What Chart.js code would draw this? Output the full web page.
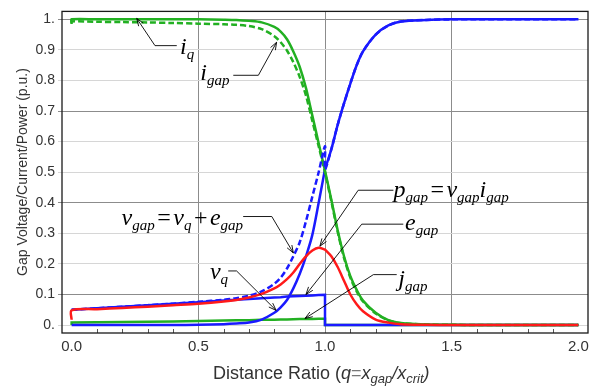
<!DOCTYPE html>
<html><head><meta charset="utf-8">
<script src="https://cdn.jsdelivr.net/npm/chart.js@4.4.1/dist/chart.umd.min.js"></script>
<style>html,body{margin:0;padding:0;background:#fff;}</style>
</head><body>
<canvas id="c" width="609" height="388"></canvas>
<script>
// ---- data ----
const q    = [0,    0,    0.1,  0.2,  0.3,  0.4,  0.5,  0.6,  0.65, 0.7,  0.75, 0.8,  0.825,0.85, 0.875,0.9,  0.925,0.95, 0.975,1.0,  1.0,  1.025,1.05, 1.075,1.1,  1.125,1.15, 1.2,  1.25, 1.3,  1.4,  1.5,  1.6,  1.8,  2.0];
const iQ   = [0.99, 1.0,  1.0,  1.0,  1.0,  1.0,  1.0,  0.999,0.998,0.995,0.99, 0.975,0.96, 0.935,0.895,0.845,0.775,0.685,0.595,0.505,0.505,0.41, 0.31, 0.225,0.16, 0.115,0.08, 0.04, 0.016,0.007,0.002,0.001,0,    0,    0];
const iGap = [0.985,0.993,0.992,0.991,0.99, 0.988,0.986,0.984,0.982,0.978,0.968,0.945,0.925,0.898,0.86, 0.812,0.75, 0.668,0.585,0.50, 0.50, 0.405,0.305,0.22, 0.155,0.11, 0.077,0.038,0.015,0.006,0.002,0.001,0,    0,    0];
const vQ   = [0,    0,    0,    0,    0,    0,    0.001,0.003,0.005,0.008,0.018,0.04, 0.058,0.082,0.12, 0.167,0.225,0.295,0.40, 0.51, 0.51, 0.575,0.655,0.725,0.79, 0.85, 0.895,0.95, 0.98, 0.993,0.998,1.0,  1.0,  1.0,  1.0];
const vGap = [0.05, 0.05, 0.055,0.06, 0.065,0.07, 0.076,0.083,0.088,0.096,0.11, 0.135,0.155,0.185,0.225,0.27, 0.34, 0.42, 0.50, 0.585,0.51, 0.575,0.655,0.725,0.79, 0.85, 0.895,0.95, 0.98, 0.993,0.998,1.0,  1.0,  1.0,  1.0];
const pGap = [0.017,0.048,0.052,0.056,0.06, 0.065,0.07, 0.077,0.082,0.09, 0.102,0.12, 0.133,0.15, 0.172,0.20, 0.225,0.244,0.253,0.247,0.247,0.225,0.19, 0.145,0.10, 0.068,0.045,0.018,0.008,0.003,0.001,0,    0,    0,    0];
const eGap = [0.05, 0.05, 0.055,0.06, 0.065,0.07, 0.075,0.08, 0.0825,0.085,0.0875,0.09,0.091,0.093,0.094,0.095,0.096,0.097,0.098,0.099,0,   0,    0,    0,    0,    0,    0,    0,    0,    0,    0,    0,    0,    0,    0];
const jGap = [0,    0.008,0.009,0.01, 0.011,0.012,0.013,0.015,0.0155,0.016,0.017,0.0175,0.018,0.0185,0.019,0.0195,0.02,0.02,0.021,0.021,0,    0,    0,    0,    0,    0,    0,    0,    0,    0,    0,    0,    0,    0,    0];

const xTicks = [0, 0.5, 1.0, 1.5, 2.0];
const xTickLabels = ['0.0', '0.5', '1.0', '1.5', '2.0'];
const yTicks = [0, 0.1, 0.2, 0.3, 0.4, 0.5, 0.6, 0.7, 0.8, 0.9, 1.0];
const yTickLabels = ['0.', '0.1', '0.2', '0.3', '0.4', '0.5', '0.6', '0.7', '0.8', '0.9', '1.'];
const yDarkGrid = [0.1, 0.4, 0.7, 1.0];
const xMinor = [0.1,0.2,0.3,0.4,0.6,0.7,0.8,0.9,1.1,1.2,1.3,1.4,1.6,1.7,1.8,1.9];

// annotation labels (positions in data units)
const notes = [
  {parts:[['i','m'],['q','s']], tip:[0.257,1.003], elbow:[0.329,0.914], end:[0.415,0.914], at:[0.428,0.887]},
  {parts:[['i','m'],['gap','s']], tip:[0.809,0.925], elbow:[0.737,0.817], end:[0.638,0.817], at:[0.508,0.80]},
  {parts:[['v','m'],['gap','s'],['=','o'],['v','m'],['q','s'],['+','o'],['e','m'],['gap','s']], tip:[0.875,0.236], elbow:[0.790,0.355], end:[0.677,0.355], at:[0.197,0.328]},
  {parts:[['v','m'],['q','s']], tip:[0.807,0.048], elbow:[0.651,0.177], end:[0.618,0.177], at:[0.546,0.151]},
  {parts:[['p','m'],['gap','s'],['=','o'],['v','m'],['gap','s'],['i','m'],['gap','s']], tip:[0.980,0.258], elbow:[1.131,0.441], end:[1.270,0.441], at:[1.270,0.419]},
  {parts:[['e','m'],['gap','s']], tip:[0.925,0.100], elbow:[1.145,0.330], end:[1.309,0.330], at:[1.316,0.312]},
  {parts:[['j','m'],['gap','s']], tip:[0.921,0.0216], elbow:[1.191,0.165], end:[1.283,0.165], at:[1.289,0.129]}
];

const GREEN = '#22b022', BLUE = '#1a1aff', RED = '#ff1a1a';
const pts = arr => q.map((x, i) => ({x: x, y: arr[i]}));

function drawParts(ctx, x, y, parts, fonts) {
  for (const [t, k] of parts) {
    const f = fonts[k];
    ctx.font = f.font;
    ctx.fillStyle = f.color || '#000';
    x += f.pre || 0;
    ctx.fillText(t, x, y + (f.dy || 0));
    x += ctx.measureText(t).width + (f.post || 0);
  }
}

const noteFonts = {
  m: {font: 'italic 24px "Liberation Serif"', dy: 0},
  s: {font: 'italic 15px "Liberation Serif"', dy: 5},
  o: {font: '24px "Liberation Serif"', dy: 0, pre: 2.5, post: 2.5}
};
const titleFonts = {
  n: {font: '18px "Liberation Sans"', color: '#333'},
  i: {font: 'italic 18px "Liberation Sans"', color: '#333'},
  o: {font: '18px "Liberation Sans"', color: '#777'},
  s: {font: 'italic 13px "Liberation Sans"', color: '#333', dy: 4}
};

const decor = {
  id: 'decor',
  afterDatasetsDraw(chart) {
    const {ctx, chartArea: a, scales: {x, y}} = chart;
    ctx.save();
    // minor ticks on bottom axis
    ctx.strokeStyle = '#555'; ctx.lineWidth = 1;
    for (const v of xMinor) {
      const px = Math.round(x.getPixelForValue(v)) + 0.5;
      ctx.beginPath(); ctx.moveTo(px, a.bottom); ctx.lineTo(px, a.bottom - 4); ctx.stroke();
    }
    // frame
    ctx.strokeStyle = '#1a1a1a'; ctx.lineWidth = 1.3;
    ctx.strokeRect(a.left, a.top, a.right - a.left, a.bottom - a.top);
    // annotations
    ctx.strokeStyle = '#000'; ctx.lineWidth = 0.9; ctx.textBaseline = 'alphabetic'; ctx.textAlign = 'left';
    for (const n of notes) {
      const T = [x.getPixelForValue(n.tip[0]), y.getPixelForValue(n.tip[1])];
      const E = [x.getPixelForValue(n.elbow[0]), y.getPixelForValue(n.elbow[1])];
      const N = [x.getPixelForValue(n.end[0]), y.getPixelForValue(n.end[1])];
      ctx.beginPath(); ctx.moveTo(N[0], N[1]); ctx.lineTo(E[0], E[1]); ctx.lineTo(T[0], T[1]); ctx.stroke();
      const ang = Math.atan2(T[1] - E[1], T[0] - E[0]);
      const L = 8, w = 0.35;
      ctx.beginPath();
      ctx.moveTo(T[0] - L * Math.cos(ang - w), T[1] - L * Math.sin(ang - w));
      ctx.lineTo(T[0], T[1]);
      ctx.lineTo(T[0] - L * Math.cos(ang + w), T[1] - L * Math.sin(ang + w));
      ctx.stroke();
      drawParts(ctx, x.getPixelForValue(n.at[0]), y.getPixelForValue(n.at[1]), n.parts, noteFonts);
    }
    // axis titles
    drawParts(ctx, 213, 379, [['Distance Ratio (', 'n'], ['q', 'i'], ['=', 'o'], ['x', 'i'], ['gap', 's'], ['/', 'i'], ['x', 'i'], ['crit', 's'], [')', 'i']], titleFonts);
    ctx.translate(27, 172); ctx.rotate(-Math.PI / 2);
    ctx.font = '14px "Liberation Sans"'; ctx.fillStyle = '#333'; ctx.textAlign = 'center';
    ctx.fillText('Gap Voltage/Current/Power (p.u.)', 0, 0);
    ctx.restore();
  }
};

const ds = (label, arr, color, extra) => Object.assign({
  label, data: pts(arr), borderColor: color, backgroundColor: color,
  borderWidth: 2.5, pointRadius: 0, tension: 0.3, fill: false
}, extra || {});

new Chart(document.getElementById('c'), {
  type: 'line',
  data: {
    datasets: [
      ds('p_gap', pGap, RED, {order: 0}),
      ds('i_q', iQ, GREEN, {order: 2}),
      ds('i_gap', iGap, GREEN, {order: 3, borderDash: [6, 3]}),
      ds('v_gap', vGap, BLUE, {order: 1, borderDash: [6, 3]}),
      ds('v_q', vQ, BLUE, {order: 4}),
      ds('e_gap', eGap, BLUE, {order: 5, tension: 0}),
      ds('j_gap', jGap, GREEN, {order: 6, tension: 0})
    ]
  },
  options: {
    responsive: false, animation: false, devicePixelRatio: 1,
    layout: {padding: {left: 0, right: 21, top: 7, bottom: 0}},
    plugins: {legend: {display: false}, tooltip: {enabled: false}},
    scales: {
      x: {
        type: 'linear', min: -0.038, max: 2.038,
        afterBuildTicks: s => { s.ticks = xTicks.map(v => ({value: v})); },
        afterFit: s => { s.height = 55; },
        ticks: {callback: (v, i) => xTickLabels[i], font: {family: 'Liberation Sans', size: 15}, color: '#333', padding: 5, maxRotation: 0},
        grid: {drawTicks: false, color: c => (c.tick && [0.5, 1, 1.5].includes(c.tick.value)) ? '#8c8c8c' : 'rgba(0,0,0,0)'},
        border: {display: false}
      },
      y: {
        type: 'linear', min: -0.026, max: 1.026,
        afterBuildTicks: s => { s.ticks = yTicks.map(v => ({value: v})); },
        afterFit: s => { s.width = 62; },
        ticks: {callback: (v, i) => yTickLabels[i], font: {family: 'Liberation Sans', size: 14}, color: '#333', padding: 3},
        grid: {drawTicks: true, tickLength: 4, color: c => (c.tick && yDarkGrid.some(d => Math.abs(d - c.tick.value) < 1e-6)) ? '#8c8c8c' : '#d6d6d6'},
        border: {display: false}
      }
    }
  },
  plugins: [decor]
});
</script>
</body></html>
